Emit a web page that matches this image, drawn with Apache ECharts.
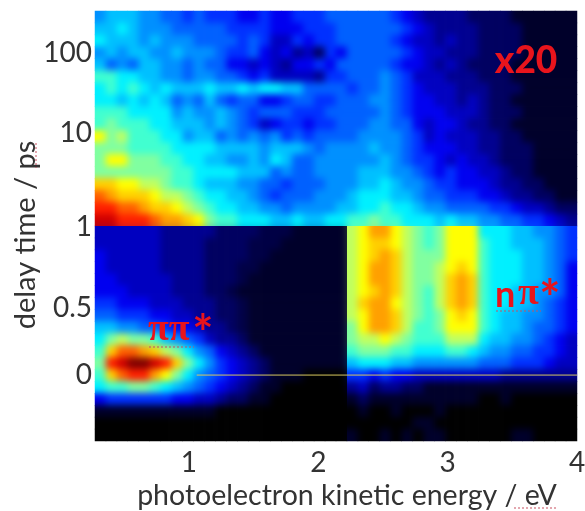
<!DOCTYPE html>
<html><head><meta charset="utf-8">
<style>html,body{margin:0;padding:0;background:#fff}#c{width:585px;height:511px}</style>
<script src="https://cdn.jsdelivr.net/npm/echarts@6/dist/echarts.min.js"></script>
</head><body><div id="c"></div>
<script>
const energyTickValues=[1,2,3,4];
const delayTickLabels=['100','10','1','0.5','0'];
const delayTickPositions=[3.52,10.22,18.09,24.87,30.48];
const timeZeroLine=[[1.06,30.48],[4,30.48]];
const colourStops=['#000000','#00002a','#000060','#000090','#0000c0','#0000f0','#0030ff','#0060ff','#0090ff','#00c0ff','#00f0ff','#40ffd0','#80ffa0','#c0ff60','#ffff00','#ffd000','#ffa000','#ff6000','#ff2000','#d00000','#800000'];
const rowsAbove1ps=[
[8,9,9,9,8,8,7,7,6,7,6,6,6,5,5,6,5,5,6,6,6,7,7,7,7,7,7,6,5,4,3,3,3,3,2,2,2,2,1,1,1,1,1,1],
[9,9,10,9,8,8,8,7,7,7,7,7,6,6,6,6,5,5,5,6,6,6,7,7,7,7,7,7,6,5,4,3,3,3,3,2,2,2,2,1,1,1,1,1],
[10,9,9,9,8,9,8,8,8,7,7,7,7,6,7,6,4,4,6,5,6,6,7,7,7,7,7,6,5,4,4,3,4,3,3,2,2,2,2,1,1,1,1,1],
[8,9,8,9,9,8,8,9,8,8,8,7,6,6,7,5,4,5,3,4,2,6,5,7,7,7,7,7,6,5,4,4,3,3,3,2,2,2,2,1,1,1,1,1],
[9,7,8,7,9,9,8,8,7,8,7,7,5,5,4,5,4,3,5,5,6,5,7,7,7,7,7,6,5,5,4,3,4,3,2,2,2,2,1,1,1,1,1,1],
[11,11,10,10,9,9,8,8,7,8,8,7,7,6,5,6,4,4,4,4,3,6,6,7,7,7,8,7,6,4,4,4,3,3,3,2,2,2,1,1,1,1,1,1],
[10,11,10,11,10,9,10,9,9,9,10,9,9,10,9,10,10,9,9,7,7,7,7,6,7,7,8,7,6,5,4,4,4,3,3,3,2,2,2,1,1,1,1,1],
[10,10,9,10,9,10,9,7,8,7,9,7,6,7,7,5,5,6,7,7,6,6,7,7,7,8,8,7,6,5,5,4,4,3,4,3,2,2,1,1,1,1,1,1],
[11,11,11,10,10,10,10,8,9,8,8,9,8,7,6,7,7,7,6,6,6,7,7,7,7,7,8,7,6,5,5,5,4,4,4,3,2,2,2,1,1,1,1,1],
[11,12,11,11,11,10,10,9,9,9,8,9,8,7,6,4,5,6,6,5,6,6,7,7,7,8,8,7,7,5,4,5,5,4,3,3,2,2,1,1,1,1,1,1],
[14,12,13,11,11,11,10,10,8,9,9,7,8,7,8,7,8,6,7,6,7,7,7,7,8,8,8,8,7,6,4,5,4,4,4,3,3,2,2,1,1,1,1,1],
[12,12,12,11,11,11,11,10,10,10,10,9,9,9,9,8,9,9,9,8,7,8,8,8,8,9,8,8,7,6,5,5,5,4,4,3,3,2,2,2,1,1,1,1],
[12,14,14,12,12,12,11,11,10,10,9,9,8,8,9,8,10,9,7,7,8,8,8,8,8,8,9,8,7,6,6,5,4,5,4,4,3,2,2,2,1,1,1,1],
[12,12,12,12,12,12,12,11,11,10,10,10,10,9,9,9,7,8,7,7,8,8,8,8,9,9,9,8,8,7,6,5,6,5,5,4,4,3,2,2,1,1,1,1],
[15,15,14,14,13,13,12,11,11,10,9,9,9,8,8,7,7,6,7,7,7,8,8,8,9,9,10,9,8,8,7,6,6,5,5,5,4,3,3,2,2,1,1,1],
[17,16,15,15,15,14,13,13,12,11,10,10,9,9,8,7,6,7,7,7,8,8,8,9,10,10,10,9,9,8,7,7,6,6,6,5,5,4,3,3,2,2,1,1],
[18,18,17,17,16,15,15,14,13,12,11,10,10,9,9,8,8,7,8,8,8,8,9,9,10,10,11,10,10,9,8,8,7,7,7,7,6,6,5,4,4,3,2,2],
[19,19,18,18,18,17,16,16,15,14,12,11,11,10,10,10,9,9,10,9,9,10,10,11,11,12,11,11,10,10,10,9,10,9,9,8,8,7,7,6,6,5,4,3]
];
const rowsBelow1psLowEnergy=[
[4,4,4,4,4,4,3,3,3,3,3,2,2,2,2,1.5,1.5,1.5,1,1,1,1,1],
[4,4,4,4,4,4,3,3,3,3,2,2,2,2,1.5,1.5,1.5,1,1,1,1,1,1],
[5,4,4,4,4,4,3,3,3,3,2,2,2,2,1.5,1.5,1,1,1,1,1,1,1],
[5,4,4,4,4,4,3,3,3,3,2,2,2,1.5,1.5,1,1,1,1,1,1,1,1],
[5,5,4,4,4,4,4,3,3,3,2,2,2,1.5,1,1,1,1,1,1,1,1,1],
[5,5,5,4,4,4,4,3,3,3,2,2,1.5,1,1,1,1,1,1,1,1,1,1],
[6,6,5,5,5,4,4,4,3,3,3,2,2,1.5,1,1,1,1,1,1,1,1,1],
[7,7,6,6,6,5,5,4,4,3,3,2,2,1.5,1,1,1,1,1,1,1,1,1],
[9,9,8,8,7,7,6,5,5,4,3,3,2,1.5,1,1,1,1,1,1,1,1,1],
[10,12,13,12,12,11,9,8,7,6,4,3,3,2,1,1,1,1,1,1,1,1,1],
[11,15,17,17,16,15,13,12,10,8,7,5,4,3,2,1,1,1,1,1,1,1,1],
[12,18,19,20,20,19,18,15,12,10,8,6,5,4,3,2,1,1,1,1,1,1,1],
[11,15,17,18,18,16,14,12,10,8,7,6,5,4,3,2,1,1,1,0,0,0,0],
[10,11,11,12,12,11,10,9,8,7,6,5,4,3,2,1,1,0,0,0,0,0,0],
[5,6,6,6,6,6,6,5,5,4,4,3,2,2,1,1,0,0,0,0,0,0,0],
[1,1,1,1,1,1,1,1,1,1,1,0,0,0,0,0,0,0,0,0,0,0,0],
[0,0,0,0,0,0,0,0,0,0,0,0,0,0,0,0,0,0,0,0,0,0,0],
[0,0,0,0,0,0,0,0,0,0,0,0,0,0,0,0,0,0,0,0,0,0,0]
];
const rowsBelow1psHighEnergy=[
[13,14,16,16,14,13,12,11,12,14,14,14,10,10,10,9,9,8,8,7,6],
[13,14,15,15,14,13,12,11,12,14,14,14,11,10,10,9,9,9,8,7,6],
[13,14,15,16,15,13,12,12,12,14,14,14,11,10,10,10,9,9,8,7,6],
[13,14,16,16,15,13,12,12,13,14,15,14,11,10,10,10,9,9,8,7,5],
[13,14,16,16,15,13,12,12,13,15,16,15,11,10,10,10,9,9,8,7,5],
[13,14,15,16,15,13,12,11,13,15,16,15,11,10,10,9,9,8,8,7,5],
[13,15,16,16,14,13,12,11,13,15,16,15,11,10,10,9,9,8,7,6,5],
[13,14,16,16,15,13,12,11,12,14,15,14,11,10,9,9,8,8,7,6,5],
[12,14,16,16,15,13,11,11,12,14,14,14,11,10,9,9,8,7,7,6,5],
[12,13,13,14,13,12,11,11,11,13,13,13,10,9,9,8,8,7,6,5,4],
[11,12,12,12,11,11,10,10,10,11,11,10,9,8,8,7,7,6,6,5,4],
[9,10,10,10,9,9,8,8,8,8,8,8,7,7,7,6,6,6,5,4,4],
[6,6,5,6,5,5,4,4,4,4,4,4,4,4,3,3,3,3,3,3,3],
[3,4,2,3,3,2,2,1,1,1,1,1,1,1,1,1,1,1,1,1,1],
[1,2,1,1,1,1,1,1,1,1,1,1,0,0,1,0,0,0,0,0,0],
[0,1,0,0,1,0,0,0,1,0,0,0,0,0,0,0,0,0,0,0,0],
[0,0,0,0,0,0,1,1,0,0,0,0,0,0,0,0,0,0,0,0,0],
[1,0,0,1,0,1,0,1,1,0,0,0,0,0,0,1,1,0,0,0,0]
];
const rows=rowsAbove1ps.concat(rowsBelow1psLowEnergy.map((r,i)=>r.concat(rowsBelow1psHighEnergy[i])));
const cells=[];
rows.forEach((r,y)=>r.forEach((v,x)=>cells.push([x,y,v])));
const font='Lato, "Open Sans", sans-serif';
const chart=echarts.init(document.getElementById('c'),null,{renderer:'canvas'});
const red='#e8141c';
const ink='#333333';
const squiggle=(x1,y1,x2,y2)=>({type:'line',zlevel:1,z:20,shape:{x1,y1,x2,y2},style:{stroke:'#c85060',lineWidth:1,lineDash:[2,2]}});
chart.setOption({
 animation:false,
 backgroundColor:'#ffffff',
 grid:{left:95,top:11,width:482,height:430,outerBoundsMode:'none'},
 visualMap:{show:false,min:0,max:20,seriesIndex:0,inRange:{color:colourStops}},
 xAxis:[
  {type:'category',data:rows[0].map((_,i)=>i),show:false},
  {type:'value',position:'bottom',min:0.274,max:4,
   axisLine:{show:false},axisTick:{show:false},splitLine:{show:false},
   axisLabel:{customValues:energyTickValues,margin:8,fontSize:28,color:ink,fontFamily:font,showMinLabel:true,showMaxLabel:true},
   name:'photoelectron kinetic energy / eV',nameLocation:'middle',nameGap:40,nameMoveOverlap:false,
   nameTextStyle:{fontSize:28.5,color:ink,fontFamily:font,padding:[0,0,0,22]}}
 ],
 yAxis:[
  {type:'category',inverse:true,data:rows.map((_,i)=>i),show:false},
  {type:'value',position:'left',inverse:true,min:0,max:36,
   axisLine:{show:false},axisTick:{show:false},splitLine:{show:false},
   axisLabel:{customValues:delayTickPositions,margin:3,fontSize:28,color:ink,fontFamily:font,
     formatter:v=>delayTickLabels[delayTickPositions.indexOf(v)]},
   name:'delay time / ps',nameLocation:'middle',nameGap:55,nameMoveOverlap:false,
   nameTextStyle:{fontSize:29,color:ink,fontFamily:font,padding:[0,18,0,0]}}
 ],
 series:[
  {type:'heatmap',xAxisIndex:0,yAxisIndex:0,zlevel:0,data:cells,itemStyle:{borderWidth:0},silent:true,progressive:0},
  {type:'line',xAxisIndex:1,yAxisIndex:1,zlevel:1,data:timeZeroLine,symbol:'none',silent:true,z:5,lineStyle:{color:'#d8c860',width:1}}
 ],
 graphic:[
  {type:'text',zlevel:1,z:20,style:{text:'x20',x:526,y:61,align:'center',verticalAlign:'middle',fill:red,font:'900 37px '+font}},
  {type:'text',zlevel:1,z:20,style:{text:'ππ',x:148,y:349,align:'left',verticalAlign:'bottom',fill:red,font:'bold 38px "Liberation Serif", serif'}},
  {type:'text',zlevel:1,z:20,style:{text:'*',x:203,y:335,align:'center',verticalAlign:'middle',fill:red,font:'bold 50px '+font}},
  {type:'text',zlevel:1,z:20,style:{text:'n',x:495,y:313,align:'left',verticalAlign:'bottom',fill:red,font:'bold 36px '+font}},
  {type:'text',zlevel:1,z:20,style:{text:'π',x:518,y:313,align:'left',verticalAlign:'bottom',fill:red,font:'bold 38px "Liberation Serif", serif'}},
  {type:'text',zlevel:1,z:20,style:{text:'*',x:550,y:300,align:'center',verticalAlign:'middle',fill:red,font:'bold 50px '+font}},
  squiggle(149,347,194,347),squiggle(496,311,541,311),squiggle(36,143,36,168),squiggle(514,508,556,508)
 ]
});
// Soften the heatmap layer panel by panel, keeping the sharp steps at 1 ps and at the low/high energy cut.
function softenPanels(radius){
 const layer=chart.getDom().querySelector('canvas');
 const ctx=layer.getContext('2d');
 const cell=(c,r)=>chart.convertToPixel({xAxisIndex:0,yAxisIndex:0},[c,r]);
 const a=cell(0,0),b=cell(1,1);
 const w=b[0]-a[0],h=b[1]-a[1];
 const x0=Math.round(a[0]-w/2),y0=Math.round(a[1]-h/2);
 const xs=[x0,Math.round(x0+23*w),Math.round(x0+44*w)];
 const ys=[y0,Math.round(y0+18*h),Math.round(y0+36*h)];
 const panels=[[xs[0],ys[0],xs[2],ys[1]],[xs[0],ys[1],xs[1],ys[2]],[xs[1],ys[1],xs[2],ys[2]]];
 const snap=document.createElement('canvas');snap.width=layer.width;snap.height=layer.height;
 snap.getContext('2d').drawImage(layer,0,0);
 const pad=Math.ceil(radius*3);
 panels.forEach(([l,t,r,bm])=>{
  const pw=r-l,ph=bm-t;
  const tmp=document.createElement('canvas');tmp.width=pw+2*pad;tmp.height=ph+2*pad;
  const tc=tmp.getContext('2d');
  tc.drawImage(snap,l,t,1,ph,0,pad,pad,ph);
  tc.drawImage(snap,r-1,t,1,ph,pad+pw,pad,pad,ph);
  tc.drawImage(snap,l,t,pw,1,pad,0,pw,pad);
  tc.drawImage(snap,l,bm-1,pw,1,pad,pad+ph,pw,pad);
  tc.drawImage(snap,l,t,1,1,0,0,pad,pad);
  tc.drawImage(snap,r-1,t,1,1,pad+pw,0,pad,pad);
  tc.drawImage(snap,l,bm-1,1,1,0,pad+ph,pad,pad);
  tc.drawImage(snap,r-1,bm-1,1,1,pad+pw,pad+ph,pad,pad);
  tc.drawImage(snap,l,t,pw,ph,pad,pad,pw,ph);
  ctx.save();
  ctx.beginPath();ctx.rect(l,t,pw,ph);ctx.clip();
  ctx.filter='blur('+radius+'px)';
  ctx.drawImage(tmp,l-pad,t-pad);
  ctx.restore();
 });
}
softenPanels(3.5);
</script></body></html>
